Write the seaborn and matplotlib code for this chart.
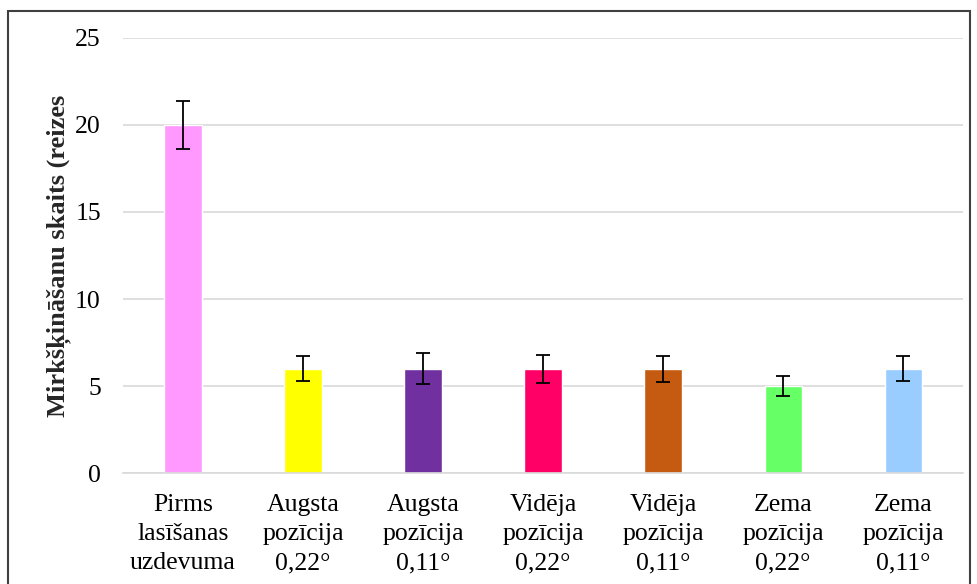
#!/usr/bin/env python3
import matplotlib
matplotlib.use("Agg")
import matplotlib.pyplot as plt
import matplotlib.patches as patches
import seaborn as sns
import pandas as pd

# Chart data
categories = [
    "Pirms\nlasīšanas\nuzdevuma",
    "Augsta\npozīcija\n0,22°",
    "Augsta\npozīcija\n0,11°",
    "Vidēja\npozīcija\n0,22°",
    "Vidēja\npozīcija\n0,11°",
    "Zema\npozīcija\n0,22°",
    "Zema\npozīcija\n0,11°",
]
values = [20, 6, 6, 6, 6, 5, 6]
errors = [1.4, 0.7, 0.9, 0.8, 0.75, 0.6, 0.7]
colors = ["#FF99FF", "#FFFF00", "#7030A0", "#FF0066", "#C55A11", "#66FF66", "#99CCFF"]
y_ticks = [0, 5, 10, 15, 20, 25]
y_label = "Mirkšķināšanu skaits (reizes"

sns.set_style("white")
plt.rcParams['font.family'] = ['Liberation Serif', 'DejaVu Serif']

df = pd.DataFrame({'category': categories, 'value': values})

fig = plt.figure(figsize=(9.78, 5.84), dpi=100)
ax = fig.add_axes([0.1258, 0.19, 0.859, 0.745])

sns.barplot(data=df, x='category', y='value', hue='category',
            palette=colors, legend=False, errorbar=None, width=0.31,
            saturation=1, ax=ax)
ax.errorbar(range(len(values)), values, yerr=errors, fmt='none',
            ecolor='black', elinewidth=1.3, capsize=5, capthick=1.3, zorder=5)

ax.set_ylim(0, 25)
ax.set_yticks(y_ticks)
ax.set_xlim(-0.5, len(values) - 0.5)
ax.yaxis.grid(True, color='#d9d9d9', linewidth=1.2)
ax.set_axisbelow(True)
for side in ['top', 'right', 'left']:
    ax.spines[side].set_visible(False)
ax.spines['bottom'].set_color('#d9d9d9')
ax.spines['bottom'].set_linewidth(1.2)

ax.tick_params(axis='both', length=0, labelsize=18.5, colors='black')
ax.tick_params(axis='y', pad=16)
ax.tick_params(axis='x', pad=15)
for lbl in ax.get_xticklabels():
    lbl.set_linespacing(1.42)
ax.set_xlabel('')
ax.set_ylabel(y_label, fontsize=19, fontweight='bold')
ax.yaxis.set_label_coords(-0.062, 0.5)

# outer frame like the exported chart area
frame = patches.Rectangle((8 / 978, -0.1), 962 / 978, 1.1 - 11 / 584,
                          transform=fig.transFigure, fill=False,
                          edgecolor='#404040', linewidth=1.5)
fig.patches.append(frame)

fig.savefig('out.png', dpi=100)
